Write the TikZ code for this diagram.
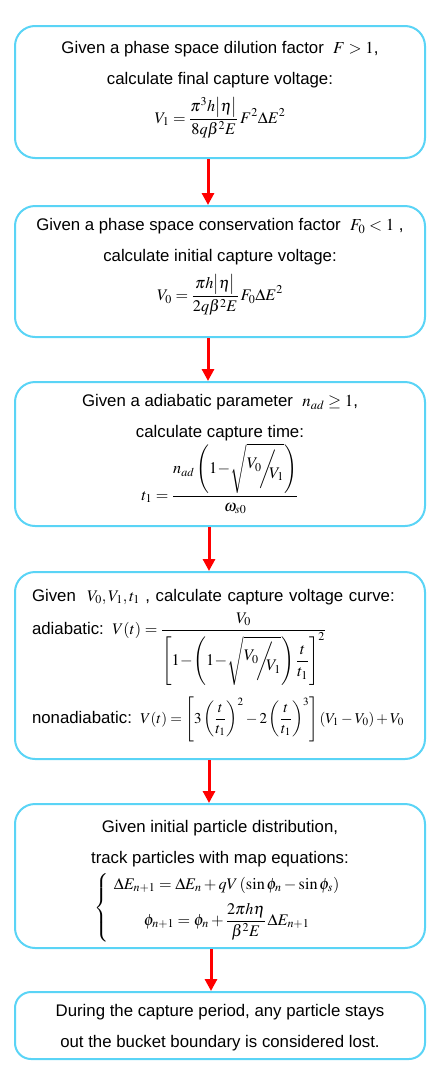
\documentclass[tikz,border=0pt]{standalone}
\usepackage{mathptmx}
\usepackage[no-math]{fontspec}
\setmainfont{Liberation Sans}
\usepackage{tikz}
\usetikzlibrary{arrows.meta,positioning}
\definecolor{frame}{HTML}{5AD4F6}
\definecolor{flow}{HTML}{FF0000}
\newcommand{\ratioVV}{{}^{\textstyle V_0}\mkern-3mu\bigg/\mkern-8mu{}_{\textstyle V_1}}
\newcommand{\eqsize}{\fontsize{16.2}{20}\selectfont}
\newcommand{\lowpad}[1]{\rule[-#1]{0pt}{1pt}}
\newcommand{\toppad}[1]{\rule{0pt}{#1}}

\begin{document}
\begin{tikzpicture}[x=1pt,y=-1pt,
  stagebox/.style={draw=frame,line width=2pt,rounded corners=20pt,fill=white,
    minimum width=410pt,inner sep=0pt,align=center,
    font=\fontsize{16.8}{31}\selectfont},
  flowarrow/.style={draw=flow,line width=3pt,-{Triangle[width=12pt,length=12pt]}}]
  \useasboundingbox (0,0) rectangle (436,1082);

  % Steps of the capture simulation
  \node[stagebox,minimum height=132pt] (dilution) at (220,92)
    {Given a phase space dilution factor \ $F>1$,\\
     calculate final capture voltage:\\[8pt]
     {\eqsize$\displaystyle V_1=\frac{\pi^3h\bigl|\eta\bigr|}{8q\beta^2E}\,F^2\Delta E^2$}\lowpad{20pt}};
  \node[stagebox,minimum height=131pt] (conserve) at (220,271.5)
    {Given a phase space conservation factor \ $F_0<1$ ,\\
     calculate initial capture voltage:\\[8pt]
     {\eqsize$\displaystyle V_0=\frac{\pi h\bigl|\eta\bigr|}{2q\beta^2E}\,F_0\Delta E^2$}\lowpad{24pt}};
  \node[stagebox,minimum height=144pt] (captime) at (220,454)
    {Given a adiabatic parameter \ $n_{ad}\geq 1$,\\
     calculate capture time:\\[2pt]
     {\eqsize$\displaystyle t_1=\frac{n_{ad}\left(1\!-\!\sqrt{\ratioVV}\right)}{\omega_{s0}}$}};
  \node[stagebox,minimum height=187pt,align=left,text width=376pt] (curve) at (220,665.5)
    {Given \ {\eqsize$V_0,V_1,t_1$} , calculate capture voltage curve:\\[2pt]
     adiabatic: {\eqsize$\displaystyle V(t)=\frac{V_0}{\left[1\!-\!\left(1\!-\!\sqrt{\ratioVV}\right)\displaystyle\frac{t}{t_1}\right]^2}$}\\[10pt]
     nonadiabatic: {\fontsize{15}{20}\selectfont$\displaystyle V(t)=\left[3\left(\frac{t}{t_1}\right)^2-2\left(\frac{t}{t_1}\right)^3\right]\left(V_1-V_0\right)+V_0$}};
  \node[stagebox,minimum height=144pt] (tracking) at (220,876)
    {\toppad{22pt}Given initial particle distribution,\\
     track particles with map equations:\\[6pt]
     {\eqsize$\displaystyle \left\{\begin{array}{c}
       \Delta E_{n+1}=\Delta E_n+qV\left(\sin\phi_n-\sin\phi_s\right)\\[8pt]
       \displaystyle\phi_{n+1}=\phi_n+\frac{2\pi h\eta}{\beta^2E}\,\Delta E_{n+1}
     \end{array}\right.$}};
  \node[stagebox,minimum height=67pt,rounded corners=16pt] (lost) at (220,1025.5)
    {\toppad{17pt}During the capture period, any particle stays\\
     out the bucket boundary is considered lost.};

  % Arrows between the steps
  \draw[flowarrow] ([xshift=-12pt]dilution.south) -- ([xshift=-12pt]conserve.north);
  \draw[flowarrow] ([xshift=-12pt]conserve.south) -- ([xshift=-12pt]captime.north);
  \draw[flowarrow] ([xshift=-11pt]captime.south) -- ([xshift=-11pt]curve.north);
  \draw[flowarrow] ([xshift=-11pt]curve.south) -- ([xshift=-11pt]tracking.north);
  \draw[flowarrow] ([xshift=-9pt]tracking.south) -- ([xshift=-9pt]lost.north);
\end{tikzpicture}
\end{document}
